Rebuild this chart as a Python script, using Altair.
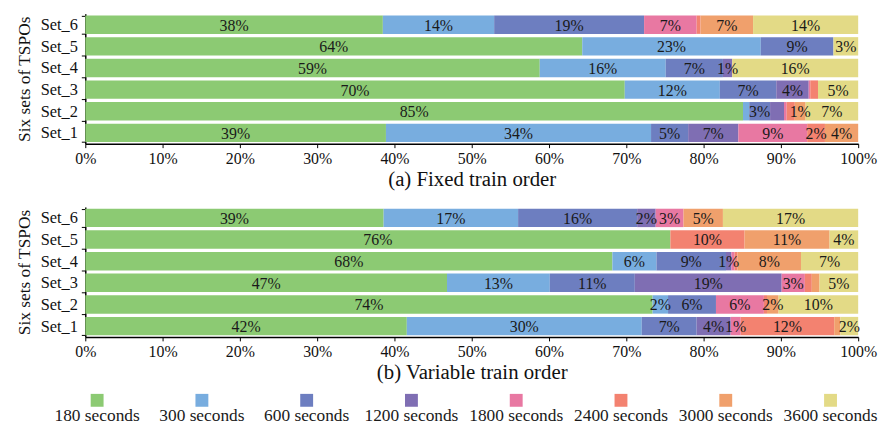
import altair as alt
import pandas as pd

FONT = "Liberation Serif"

sets = ["Set_1", "Set_2", "Set_3", "Set_4", "Set_5", "Set_6"]
durations = ["180 seconds", "300 seconds", "600 seconds", "1200 seconds",
             "1800 seconds", "2400 seconds", "3000 seconds", "3600 seconds"]
colors = ["#8cca73", "#78addf", "#6d7ec0", "#7f6eb3", "#e878a2", "#f38270", "#f0a06c", "#e3da86"]

# (a) Fixed train order: share (%) of each duration, per set
fixed_set_1 = [38.9, 34.3, 4.8, 6.5, 8.9, 2.3, 4.3, 0.0]
fixed_set_2 = [85.1, 0.8, 2.7, 1.8, 0.35, 1.05, 1.4, 6.8]
fixed_set_3 = [69.8, 12.3, 7.3, 4.2, 0.2, 1.0, 0.0, 5.2]
fixed_set_4 = [58.8, 16.3, 7.4, 1.2, 0.0, 0.0, 0.0, 16.3]
fixed_set_5 = [64.3, 23.1, 9.4, 0.0, 0.0, 0.0, 0.0, 3.2]
fixed_set_6 = [38.5, 14.4, 19.4, 0.0, 6.8, 0.5, 6.8, 13.6]

fixed_lab_1 = ["39%", "34%", "5%", "7%", "9%", "2%", "4%", ""]
fixed_lab_2 = ["85%", "", "3%", "", "", "", "1%", "7%"]
fixed_lab_3 = ["70%", "12%", "7%", "4%", "", "", "", "5%"]
fixed_lab_4 = ["59%", "16%", "7%", "1%", "", "", "", "16%"]
fixed_lab_5 = ["64%", "23%", "9%", "", "", "", "", "3%"]
fixed_lab_6 = ["38%", "14%", "19%", "", "7%", "", "7%", "14%"]

# (b) Variable train order
var_set_1 = [41.6, 30.4, 7.1, 4.4, 1.3, 12.1, 0.8, 2.3]
var_set_2 = [73.4, 2.0, 6.2, 0.0, 6.2, 0.4, 1.5, 10.3]
var_set_3 = [46.8, 13.3, 11.0, 19.0, 3.0, 0.9, 1.0, 5.0]
var_set_4 = [68.2, 5.7, 9.0, 0.7, 0.4, 0.4, 8.2, 7.4]
var_set_5 = [75.7, 0.0, 0.0, 0.0, 0.0, 9.6, 11.0, 3.7]
var_set_6 = [38.6, 17.4, 15.4, 2.4, 3.6, 0.0, 5.1, 17.5]

var_lab_1 = ["42%", "30%", "7%", "4%", "1%", "12%", "", "2%"]
var_lab_2 = ["74%", "2%", "6%", "", "6%", "", "2%", "10%"]
var_lab_3 = ["47%", "13%", "11%", "19%", "3%", "", "", "5%"]
var_lab_4 = ["68%", "6%", "9%", "1%", "", "", "8%", "7%"]
var_lab_5 = ["76%", "", "", "", "", "10%", "11%", "4%"]
var_lab_6 = ["39%", "17%", "16%", "2%", "3%", "", "5%", "17%"]

x_ticks = list(range(0, 101, 10))


def build_df(values, labels):
    rows = []
    for s, vals, labs in zip(sets, values, labels):
        cum = 0.0
        for i, (d, v, lab) in enumerate(zip(durations, vals, labs)):
            rows.append({"set": s, "duration": d, "order": i, "value": v,
                         "start": cum, "end": cum + v, "mid": cum + v / 2, "label": lab})
            cum += v
    return pd.DataFrame(rows)


fixed_df = build_df([fixed_set_1, fixed_set_2, fixed_set_3, fixed_set_4, fixed_set_5, fixed_set_6],
                    [fixed_lab_1, fixed_lab_2, fixed_lab_3, fixed_lab_4, fixed_lab_5, fixed_lab_6])
var_df = build_df([var_set_1, var_set_2, var_set_3, var_set_4, var_set_5, var_set_6],
                  [var_lab_1, var_lab_2, var_lab_3, var_lab_4, var_lab_5, var_lab_6])

color_scale = alt.Scale(domain=durations, range=colors)
sets_desc = list(reversed(sets))

PLOT_W = 780


def panel(df, title):
    y_enc = alt.Y("set:N", sort=sets_desc,
                  scale=alt.Scale(paddingInner=0.15, paddingOuter=0.075),
                  axis=alt.Axis(title="Six sets of TSPOs", tickBand="extent", tickSize=4,
                                labelPadding=4, labelFontSize=16.5, titleFontSize=17.5,
                                titlePadding=7, titleFontWeight="normal"))
    bars = alt.Chart(df).mark_bar(stroke=None).encode(
        y=y_enc,
        x=alt.X("start:Q", scale=alt.Scale(domain=[0, 100], nice=False),
                axis=alt.Axis(values=x_ticks, labelExpr="datum.value + '%'", title=title,
                              labelFlush=False, labelOverlap=False,
                              tickSize=4, labelPadding=3, labelFontSize=16,
                              titleFontSize=21, titlePadding=2, titleFontWeight="normal")),
        x2="end:Q",
        color=alt.Color("duration:N", scale=color_scale, legend=None),
    )
    text = alt.Chart(df).transform_filter("datum.label != ''").mark_text(
        font=FONT, fontSize=16, color="#1a1a1a", baseline="middle", dy=1
    ).encode(
        y=alt.Y("set:N", sort=sets_desc),
        x=alt.X("mid:Q"),
        text="label:N",
    )
    return alt.layer(bars, text).properties(width=PLOT_W, height=131)


top = panel(fixed_df, "(a) Fixed train order")
bottom = panel(var_df, "(b) Variable train order")

legend_df = pd.DataFrame({"duration": durations, "idx": list(range(len(durations)))})
leg_x = alt.X("idx:Q", scale=alt.Scale(domain=[-0.113, 7.264], nice=False, zero=False), axis=None)
leg_sq = alt.Chart(legend_df).mark_square(size=169, opacity=1).encode(
    x=leg_x, y=alt.value(0),
    color=alt.Color("duration:N", scale=color_scale, legend=None),
)
leg_txt = alt.Chart(legend_df).mark_text(font=FONT, fontSize=17.5, color="#1a1a1a", baseline="middle").encode(
    x=leg_x, y=alt.value(16), text="duration:N"
)
legend = alt.layer(leg_sq, leg_txt).properties(width=PLOT_W, height=10)

chart = alt.vconcat(top, bottom, legend, spacing=64, bounds="flush").properties(
    padding={"left": 7, "right": 0, "top": -4, "bottom": 0}
).configure_view(stroke=None).configure_axis(
    labelFont=FONT, titleFont=FONT, labelColor="#111", titleColor="#111",
    domainColor="#000", domainWidth=1.5, tickColor="#000", tickWidth=1, grid=False
).configure_text(font=FONT)

chart.save("out.html", embed_options={"renderer": "svg", "actions": False})
